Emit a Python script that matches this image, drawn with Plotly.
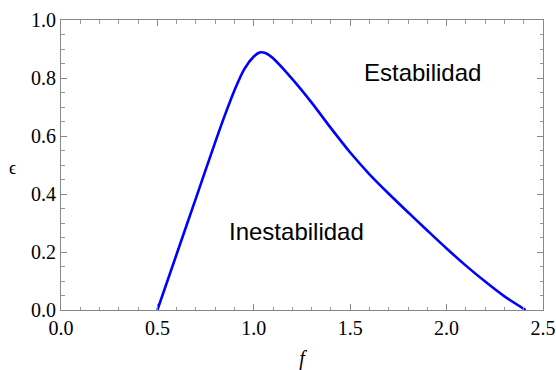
import plotly.graph_objects as go

f_vals = [0.5, 0.6, 0.7, 0.8, 0.85, 0.9, 0.95, 1.0, 1.03, 1.06, 1.1, 1.2, 1.3,
          1.4, 1.5, 1.6, 1.7, 1.8, 1.9, 2.0, 2.1, 2.2, 2.3, 2.41]
eps_vals = [0.0, 0.193, 0.386, 0.579, 0.672, 0.758, 0.830, 0.874, 0.888, 0.886,
            0.868, 0.796, 0.715, 0.627, 0.543, 0.468, 0.401, 0.337, 0.274,
            0.212, 0.153, 0.098, 0.047, 0.0]

labels = ["Estabilidad", "Inestabilidad"]
label_f = [1.877, 1.222]
label_eps = [0.82, 0.27]

fig = go.Figure()
fig.add_trace(go.Scatter(x=f_vals, y=eps_vals, mode="lines",
                         line=dict(color="#0000ff", width=2.6, shape="spline", smoothing=0.8)))
# invisible copy on overlay axes that carry the frame ticks
fig.add_trace(go.Scatter(x=f_vals, y=eps_vals, mode="lines", xaxis="x2", yaxis="y2",
                         line=dict(color="rgba(0,0,0,0)", width=0), hoverinfo="skip"))

for t, fx, ey in zip(labels, label_f, label_eps):
    fig.add_annotation(x=fx, y=ey, text=t, showarrow=False,
                       font=dict(family="Liberation Sans", size=24, color="black"))

fig.add_annotation(xref="paper", yref="paper", x=-0.0996, y=0.49, text="ϵ",
                   showarrow=False, xanchor="center", yanchor="middle",
                   font=dict(family="Liberation Serif", size=18, color="black"))

tick_font = dict(family="Liberation Serif", size=20, color="black")
xaxis = dict(range=[0, 2.5], dtick=0.5, tickformat=".1f", automargin=False,
             ticks="inside", ticklen=6, tickcolor="#888888",
             showline=True, mirror="ticks", linecolor="#888888", showgrid=False,
             zeroline=False, tickfont=tick_font,
             minor=dict(dtick=0.1, ticks="inside", ticklen=3.5, tickcolor="#999999"),
             title=dict(text="<i>f</i>", font=dict(family="Liberation Serif", size=20, color="black"),
                        standoff=16))
yaxis = dict(range=[0, 1], dtick=0.2, tickformat=".1f", automargin=False,
             ticks="inside", ticklen=6, tickcolor="#888888",
             showline=True, mirror="ticks", linecolor="#888888", showgrid=False,
             zeroline=False, tickfont=tick_font,
             minor=dict(dtick=0.05, ticks="inside", ticklen=3.5, tickcolor="#999999"))
xaxis2 = dict(overlaying="x", anchor="y2", side="bottom", range=[0, 2.5], dtick=0.5,
              automargin=False, showticklabels=False,
              ticks="inside", ticklen=6, tickcolor="#888888",
              showline=True, mirror="ticks", linecolor="#888888", showgrid=False, zeroline=False,
              minor=dict(dtick=0.1, ticks="inside", ticklen=3.5, tickcolor="#999999"))
yaxis2 = dict(overlaying="y", anchor="x2", side="left", range=[0, 1], dtick=0.2,
              automargin=False, showticklabels=False,
              ticks="inside", ticklen=6, tickcolor="#888888",
              showline=True, mirror="ticks", linecolor="#888888", showgrid=False, zeroline=False,
              minor=dict(dtick=0.05, ticks="inside", ticklen=3.5, tickcolor="#999999"))

fig.update_layout(xaxis=xaxis, yaxis=yaxis, xaxis2=xaxis2, yaxis2=yaxis2)
fig.update_layout(width=556, height=370,
                  margin=dict(l=61, r=13, t=20, b=60, autoexpand=False),
                  plot_bgcolor="white", paper_bgcolor="white", showlegend=False)

fig.write_html("out.html")
